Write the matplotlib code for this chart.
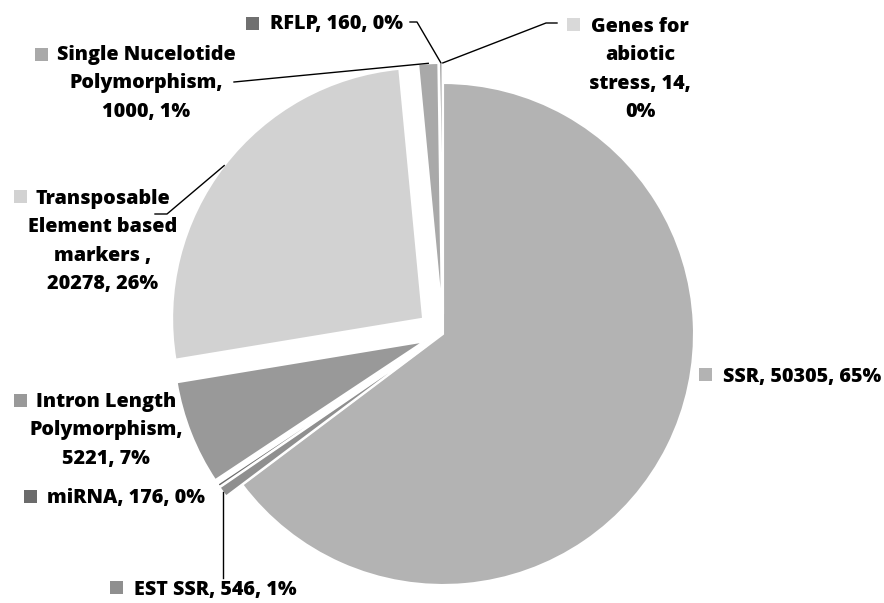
import textwrap
import numpy as np
import matplotlib
matplotlib.use('Agg')
import matplotlib.pyplot as plt
from matplotlib.patches import Rectangle

categories = ["SSR", "EST SSR", "miRNA", "Intron Length Polymorphism",
              "Transposable Element based markers ", "Single Nucelotide Polymorphism",
              "RFLP", "Genes for abiotic stress"]
values = [50305, 546, 176, 5221, 20278, 1000, 160, 14]
colors = ['#b3b3b3', '#8f8f8f', '#6b6b6b', '#999999', '#d2d2d2', '#a9a9a9', '#707070', '#d9d9d9']

W, H = 884, 603
fig = plt.figure(figsize=(W / 100, H / 100), dpi=100)
ax = fig.add_axes([0, 0, 1, 1])


def Y(y):
    return H - y


R = 251
CX, CY = 443, 334
explode_frac = [0, 0.08, 0.08, 0.08, 0.1, 0.08, 0.08, 0.08]
wedges, _ = ax.pie(values, colors=colors, startangle=90, counterclock=False,
                   radius=R, center=(CX, Y(CY)), explode=[e * R for e in explode_frac],
                   wedgeprops=dict(edgecolor='white', linewidth=1.5))
ax.set_xlim(0, W)
ax.set_ylim(0, H)
ax.set_aspect('auto')
ax.axis('off')

total = sum(values)
FONT = dict(family='Open Sans', weight=800, size=14.2)
LS = 28.3

# layout: text center x, first line y, wrap width, marker x, marker y
layout = [
    (802, 375, 40, 705, 374),
    (215, 588, 40, 116, 587),
    (126, 496, 40, 30, 496),
    (106, 400, 13, 20, 400),
    (103, 197, 13, 20, 196),
    (146, 53, 17, 41, 54),
    (337, 22, 40, 252, 23),
    (640, 25, 11, 573, 24),
]

for name, v, c, (tx, ty, ww, mx, my) in zip(categories, values, colors, layout):
    pct = int(round(v / total * 100))
    label = f"{name}, {v}, {pct}%"
    lines = textwrap.wrap(label, width=ww)
    for i, ln in enumerate(lines):
        ax.text(tx, Y(ty + i * LS + 7), ln, ha='center', va='baseline', color='black', **FONT)
    ax.add_patch(Rectangle((mx - 6.5, Y(my) - 6.5), 13, 13, color=c, lw=0))


def arc_mid(i):
    w = wedges[i]
    a = np.deg2rad((w.theta1 + w.theta2) / 2)
    cx, cy = w.center
    return cx + w.r * np.cos(a), cy + w.r * np.sin(a)


def leader(pts, i):
    xs = [p[0] for p in pts]
    ys = [Y(p[1]) for p in pts]
    ex, ey = arc_mid(i)
    xs.append(ex)
    ys.append(ey)
    ax.plot(xs, ys, color='black', lw=1)


ex, ey = arc_mid(1)
ax.plot([ex, ex], [Y(578), ey], color='black', lw=1)
leader([(155, 214), (167, 214)], 4)
leader([(234, 82)], 5)
leader([(410, 22), (417, 22)], 6)
leader([(557, 23), (546, 23)], 7)

fig.savefig('out.png', dpi=100)
